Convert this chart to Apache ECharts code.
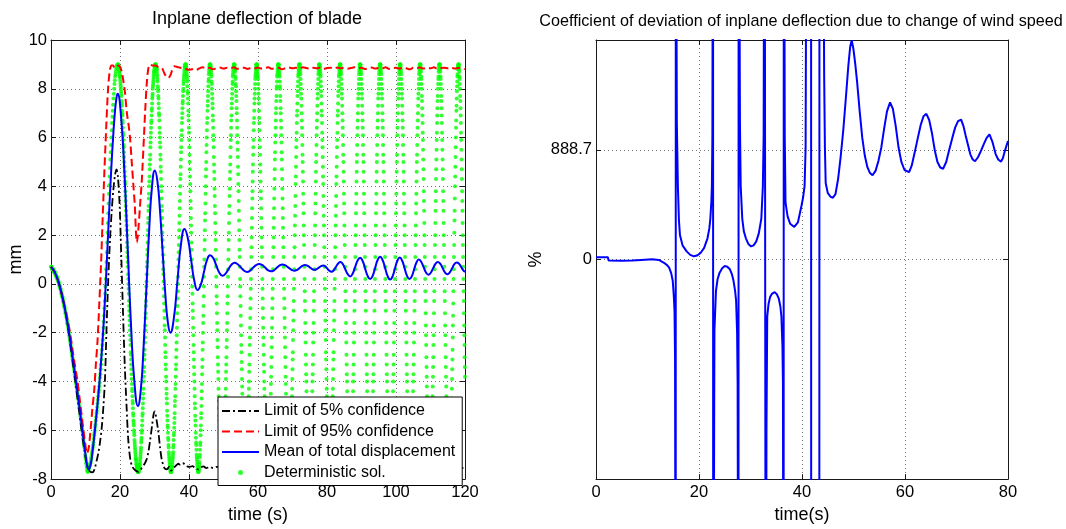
<!DOCTYPE html>
<html>
<head>
<meta charset="utf-8">
<title>Inplane deflection of blade</title>
<script src="https://cdn.jsdelivr.net/npm/echarts@6/dist/echarts.min.js"></script>
<style>
html,body{margin:0;padding:0;background:#fff;}
#main{width:1066px;height:529px;}
</style>
</head>
<body>
<div id="main"></div>
<script>
// deterministic solution: slow start sampled every 0.1 s from t=0,
// then every 0.05 s from t=19.3 (one block per half swing)
var detEarlyStep = 0.1;
var detEarly = [
  // 0.0 - 10.5
  0.7,0.7,0.7,0.6,0.6,0.6,0.6,0.6,0.5,0.5,0.5,0.5,0.4,0.4,0.4,0.3,0.3,0.3,0.2,0.2,
  0.2,0.1,0.1,0.0,0.0,-0.1,-0.1,-0.2,-0.2,-0.3,-0.4,-0.4,-0.5,-0.5,-0.6,-0.7,-0.7,-0.8,-0.9,-0.9,
  -1.0,-1.1,-1.2,-1.2,-1.3,-1.4,-1.5,-1.6,-1.6,-1.7,-1.8,-1.9,-2.0,-2.1,-2.2,-2.3,-2.4,-2.5,-2.6,-2.7,
  -2.8,-2.9,-3.0,-3.1,-3.2,-3.3,-3.4,-3.5,-3.6,-3.7,-3.8,-3.9,-4.0,-4.1,-4.2,-4.3,-4.4,-4.5,-4.6,-4.7,
  -4.8,-4.9,-5.0,-5.1,-5.2,-5.4,-5.5,-5.6,-5.7,-5.8,-5.9,-6.0,-6.1,-6.3,-6.4,-6.5,-6.6,-6.7,-6.8,-7.0,
  -7.1,-7.2,-7.35,-7.45,-7.55,-7.65,
  // 10.6 - 19.2
  -7.7,-7.7,-7.65,-7.6,-7.55,-7.5,-7.45,-7.4,-7.35,-7.3,-7.2,-7.1,-7.0,-6.9,-6.8,-6.7,-6.6,-6.5,-6.35,-6.2,
  -6.1,-6.0,-5.85,-5.75,-5.6,-5.45,-5.3,-5.2,-5.05,-4.9,-4.75,-4.6,-4.45,-4.35,-4.2,-4.05,-3.85,-3.7,-3.5,-3.3,
  -3.1,-2.9,-2.7,-2.5,-2.3,-2.05,-1.8,-1.55,-1.3,-1.0,-0.7,-0.4,-0.1,0.2,0.6,0.9,1.3,1.7,2.1,2.5,
  2.9,3.3,3.7,4.05,4.4,4.75,5.1,5.4,5.7,6.0,6.3,6.6,6.85,7.1,7.35,7.6,7.8,8.0,8.2,8.35,
  8.5,8.6,8.7,8.8,8.87,8.93,8.97
];
var detLateStart = 19.3;
var detLateStep = 0.05;
var detLate = [
  // 19.3 - 25.25
  9.0,9.0,9.0,9.0,8.9,8.9,8.9,8.9,8.8,8.8,8.7,8.7,8.6,8.5,8.5,8.4,8.3,8.2,8.1,8.0,
  7.9,7.8,7.7,7.5,7.4,7.3,7.1,7.0,6.9,6.7,6.6,6.4,6.2,6.1,5.9,5.7,5.6,5.4,5.2,5.0,
  4.8,4.6,4.4,4.2,4.1,3.8,3.6,3.4,3.2,3.0,2.8,2.6,2.4,2.2,2.0,1.7,1.5,1.3,1.1,0.9,
  0.7,0.4,0.2,0.0,-0.2,-0.4,-0.7,-0.9,-1.1,-1.3,-1.5,-1.7,-1.9,-2.1,-2.3,-2.5,-2.8,-2.9,-3.1,-3.3,
  -3.5,-3.7,-3.9,-4.1,-4.3,-4.4,-4.6,-4.8,-4.9,-5.1,-5.3,-5.4,-5.6,-5.7,-5.8,-6.0,-6.1,-6.2,-6.4,-6.5,
  -6.6,-6.7,-6.8,-6.9,-7.0,-7.1,-7.2,-7.2,-7.3,-7.4,-7.4,-7.5,-7.5,-7.6,-7.6,-7.6,-7.7,-7.7,-7.7,-7.7,
  // 25.3 - 30.25
  -7.7,-7.7,-7.7,-7.7,-7.6,-7.6,-7.5,-7.5,-7.4,-7.4,-7.3,-7.2,-7.1,-7.0,-6.9,-6.8,-6.7,-6.5,-6.4,-6.3,
  -6.1,-6.0,-5.8,-5.6,-5.4,-5.3,-5.1,-4.9,-4.7,-4.5,-4.3,-4.0,-3.8,-3.6,-3.4,-3.1,-2.9,-2.7,-2.4,-2.2,
  -1.9,-1.7,-1.4,-1.2,-0.9,-0.7,-0.4,-0.1,0.1,0.4,0.7,0.9,1.2,1.4,1.7,2.0,2.2,2.5,2.7,3.0,
  3.2,3.5,3.7,4.0,4.2,4.4,4.7,4.9,5.1,5.3,5.6,5.8,6.0,6.2,6.4,6.6,6.7,6.9,7.1,7.2,
  7.4,7.6,7.7,7.8,8.0,8.1,8.2,8.3,8.4,8.5,8.6,8.7,8.7,8.8,8.9,8.9,8.9,9.0,9.0,9.0,
  // 30.3 - 34.75
  9.0,9.0,9.0,8.9,8.9,8.9,8.8,8.8,8.7,8.6,8.5,8.4,8.3,8.1,8.0,7.9,7.7,7.6,7.4,7.2,
  7.0,6.9,6.7,6.4,6.2,6.0,5.8,5.6,5.3,5.1,4.8,4.6,4.3,4.0,3.8,3.5,3.2,3.0,2.7,2.4,
  2.1,1.8,1.5,1.2,0.9,0.6,0.4,0.1,-0.2,-0.5,-0.8,-1.1,-1.4,-1.7,-1.9,-2.2,-2.5,-2.8,-3.0,-3.3,
  -3.5,-3.8,-4.0,-4.3,-4.5,-4.7,-4.9,-5.2,-5.4,-5.6,-5.8,-5.9,-6.1,-6.3,-6.4,-6.6,-6.7,-6.9,-7.0,-7.1,
  -7.2,-7.3,-7.4,-7.5,-7.5,-7.6,-7.6,-7.7,-7.7,-7.7,
  // 34.8 - 38.95
  -7.7,-7.7,-7.7,-7.6,-7.6,-7.5,-7.5,-7.4,-7.3,-7.2,-7.1,-7.0,-6.9,-6.7,-6.6,-6.4,-6.2,-6.1,-5.9,-5.7,
  -5.5,-5.3,-5.0,-4.8,-4.6,-4.3,-4.1,-3.8,-3.5,-3.3,-3.0,-2.7,-2.4,-2.1,-1.8,-1.5,-1.2,-0.9,-0.6,-0.3,
  0.0,0.3,0.7,1.0,1.3,1.6,1.9,2.2,2.5,2.8,3.1,3.4,3.7,4.0,4.3,4.5,4.8,5.1,5.4,5.6,
  5.9,6.1,6.3,6.6,6.8,7.0,7.2,7.4,7.5,7.7,7.9,8.0,8.2,8.3,8.4,8.5,8.6,8.7,8.8,8.9,
  8.9,8.9,9.0,9.0,
  // 39.0 - 42.65
  9.0,9.0,9.0,8.9,8.9,8.8,8.7,8.6,8.5,8.4,8.3,8.1,7.9,7.8,7.6,7.4,7.1,6.9,6.7,6.4,
  6.2,5.9,5.6,5.3,5.0,4.7,4.4,4.1,3.8,3.4,3.1,2.7,2.4,2.1,1.7,1.4,1.0,0.7,0.3,-0.1,
  -0.4,-0.8,-1.1,-1.4,-1.8,-2.1,-2.5,-2.8,-3.1,-3.4,-3.7,-4.0,-4.3,-4.6,-4.9,-5.1,-5.4,-5.6,-5.8,-6.1,
  -6.3,-6.5,-6.6,-6.8,-7.0,-7.1,-7.2,-7.3,-7.4,-7.5,-7.6,-7.6,-7.7,-7.7,
  // 42.7 - 46.05
  -7.7,-7.7,-7.7,-7.6,-7.6,-7.5,-7.4,-7.3,-7.1,-7.0,-6.8,-6.6,-6.5,-6.2,-6.0,-5.8,-5.5,-5.3,-5.0,-4.7,
  -4.4,-4.1,-3.7,-3.4,-3.1,-2.7,-2.4,-2.0,-1.6,-1.3,-0.9,-0.5,-0.1,0.3,0.7,1.0,1.4,1.8,2.2,2.6,
  2.9,3.3,3.7,4.0,4.4,4.7,5.0,5.4,5.7,6.0,6.3,6.6,6.8,7.1,7.3,7.5,7.7,7.9,8.1,8.3,
  8.4,8.6,8.7,8.8,8.9,8.9,9.0,9.0,
  // 46.1 - 49.55
  9.0,9.0,9.0,8.9,8.9,8.8,8.7,8.6,8.5,8.3,8.2,8.0,7.8,7.6,7.4,7.2,6.9,6.7,6.4,6.1,
  5.9,5.6,5.2,4.9,4.6,4.3,3.9,3.6,3.2,2.9,2.5,2.1,1.8,1.4,1.0,0.7,0.3,-0.1,-0.5,-0.8,
  -1.2,-1.6,-1.9,-2.3,-2.6,-3.0,-3.3,-3.6,-3.9,-4.3,-4.6,-4.8,-5.1,-5.4,-5.6,-5.9,-6.1,-6.3,-6.5,-6.7,
  -6.9,-7.0,-7.2,-7.3,-7.4,-7.5,-7.6,-7.6,-7.7,-7.7,
  // 49.6 - 53.05
  -7.7,-7.7,-7.7,-7.6,-7.6,-7.5,-7.4,-7.3,-7.2,-7.0,-6.9,-6.7,-6.5,-6.3,-6.1,-5.9,-5.6,-5.4,-5.1,-4.8,
  -4.6,-4.3,-3.9,-3.6,-3.3,-3.0,-2.6,-2.3,-1.9,-1.6,-1.2,-0.8,-0.5,-0.1,0.3,0.6,1.0,1.4,1.8,2.1,
  2.5,2.9,3.2,3.6,3.9,4.3,4.6,4.9,5.2,5.6,5.9,6.1,6.4,6.7,6.9,7.2,7.4,7.6,7.8,8.0,
  8.2,8.3,8.5,8.6,8.7,8.8,8.9,8.9,9.0,9.0,
  // 53.1 - 56.35
  9.0,9.0,9.0,8.9,8.8,8.8,8.7,8.5,8.4,8.2,8.1,7.9,7.7,7.5,7.2,7.0,6.7,6.4,6.1,5.8,
  5.5,5.2,4.8,4.5,4.1,3.8,3.4,3.0,2.6,2.2,1.8,1.4,1.1,0.7,0.2,-0.1,-0.5,-0.9,-1.3,-1.7,
  -2.1,-2.5,-2.8,-3.2,-3.5,-3.9,-4.2,-4.5,-4.8,-5.1,-5.4,-5.7,-5.9,-6.2,-6.4,-6.6,-6.8,-7.0,-7.1,-7.2,
  -7.4,-7.5,-7.5,-7.6,-7.7,-7.7,
  // 56.4 - 59.55
  -7.7,-7.7,-7.7,-7.6,-7.5,-7.4,-7.3,-7.2,-7.1,-6.9,-6.7,-6.5,-6.3,-6.1,-5.8,-5.5,-5.3,-5.0,-4.6,-4.3,
  -4.0,-3.6,-3.3,-2.9,-2.5,-2.2,-1.8,-1.4,-1.0,-0.6,-0.2,0.2,0.6,1.1,1.5,1.9,2.3,2.7,3.1,3.5,
  3.8,4.2,4.6,4.9,5.3,5.6,5.9,6.3,6.6,6.8,7.1,7.4,7.6,7.8,8.0,8.2,8.4,8.5,8.6,8.7,
  8.8,8.9,9.0,9.0,
  // 59.6 - 62.75
  9.0,9.0,9.0,8.9,8.8,8.7,8.6,8.5,8.4,8.2,8.0,7.8,7.6,7.4,7.1,6.8,6.6,6.3,5.9,5.6,
  5.3,4.9,4.6,4.2,3.8,3.5,3.1,2.7,2.3,1.9,1.5,1.1,0.7,0.2,-0.2,-0.6,-1.0,-1.4,-1.8,-2.2,
  -2.5,-2.9,-3.3,-3.6,-4.0,-4.3,-4.6,-5.0,-5.3,-5.5,-5.8,-6.1,-6.3,-6.5,-6.7,-6.9,-7.1,-7.2,-7.3,-7.5,
  -7.5,-7.6,-7.7,-7.7,
  // 62.8 - 65.85
  -7.7,-7.7,-7.7,-7.6,-7.5,-7.4,-7.3,-7.2,-7.0,-6.8,-6.7,-6.4,-6.2,-5.9,-5.7,-5.4,-5.1,-4.8,-4.5,-4.1,
  -3.8,-3.4,-3.0,-2.6,-2.2,-1.8,-1.4,-1.0,-0.6,-0.2,0.2,0.6,1.1,1.5,1.9,2.3,2.7,3.1,3.5,3.9,
  4.3,4.7,5.1,5.4,5.8,6.1,6.4,6.7,7.0,7.2,7.5,7.7,8.0,8.1,8.3,8.5,8.6,8.7,8.8,8.9,
  9.0,9.0,
  // 65.9 - 68.95
  9.0,9.0,9.0,8.9,8.8,8.7,8.6,8.5,8.3,8.1,8.0,7.7,7.5,7.2,7.0,6.7,6.4,6.1,5.8,5.4,
  5.1,4.7,4.3,3.9,3.5,3.1,2.7,2.3,1.9,1.5,1.1,0.7,0.2,-0.2,-0.6,-1.0,-1.4,-1.8,-2.2,-2.6,
  -3.0,-3.4,-3.8,-4.1,-4.5,-4.8,-5.1,-5.4,-5.7,-5.9,-6.2,-6.4,-6.6,-6.8,-7.0,-7.2,-7.3,-7.4,-7.5,-7.6,
  -7.7,-7.7,
  // 69.0 - 71.95
  -7.7,-7.7,-7.6,-7.6,-7.5,-7.4,-7.3,-7.2,-7.0,-6.8,-6.6,-6.4,-6.1,-5.8,-5.6,-5.3,-4.9,-4.6,-4.3,-3.9,
  -3.5,-3.1,-2.8,-2.3,-1.9,-1.5,-1.1,-0.7,-0.2,0.2,0.6,1.1,1.5,2.0,2.4,2.8,3.2,3.6,4.1,4.4,
  4.8,5.2,5.6,5.9,6.2,6.6,6.9,7.1,7.4,7.7,7.9,8.1,8.3,8.5,8.6,8.7,8.8,8.9,9.0,9.0,
  // 72.0 - 74.85
  9.0,9.0,9.0,8.9,8.8,8.7,8.6,8.4,8.2,8.0,7.8,7.6,7.3,7.0,6.7,6.4,6.1,5.7,5.3,5.0,
  4.6,4.2,3.7,3.3,2.9,2.4,2.0,1.6,1.1,0.7,0.2,-0.3,-0.7,-1.1,-1.6,-2.0,-2.4,-2.9,-3.3,-3.7,
  -4.0,-4.4,-4.8,-5.1,-5.4,-5.7,-6.0,-6.3,-6.5,-6.7,-6.9,-7.1,-7.3,-7.4,-7.5,-7.6,-7.7,-7.7,
  // 74.9 - 77.75
  -7.7,-7.7,-7.7,-7.6,-7.5,-7.4,-7.3,-7.1,-6.9,-6.7,-6.5,-6.3,-6.0,-5.7,-5.4,-5.1,-4.8,-4.4,-4.0,-3.7,
  -3.3,-2.9,-2.4,-2.0,-1.6,-1.1,-0.7,-0.3,0.2,0.6,1.1,1.6,2.0,2.4,2.9,3.3,3.7,4.2,4.6,5.0,
  5.3,5.7,6.1,6.4,6.7,7.0,7.3,7.6,7.8,8.0,8.2,8.4,8.6,8.7,8.8,8.9,9.0,9.0,
  // 77.8 - 80.75
  9.0,9.0,8.9,8.9,8.8,8.7,8.6,8.5,8.3,8.1,7.9,7.7,7.4,7.1,6.9,6.6,6.2,5.9,5.6,5.2,
  4.8,4.4,4.1,3.6,3.2,2.8,2.4,2.0,1.5,1.1,0.7,0.2,-0.2,-0.7,-1.1,-1.5,-1.9,-2.3,-2.8,-3.1,
  -3.5,-3.9,-4.3,-4.6,-4.9,-5.3,-5.6,-5.8,-6.1,-6.4,-6.6,-6.8,-7.0,-7.2,-7.3,-7.4,-7.5,-7.6,-7.7,-7.7,
  // 80.8 - 83.75
  -7.7,-7.7,-7.6,-7.6,-7.5,-7.4,-7.3,-7.2,-7.0,-6.8,-6.6,-6.4,-6.1,-5.8,-5.6,-5.3,-4.9,-4.6,-4.3,-3.9,
  -3.5,-3.1,-2.8,-2.3,-1.9,-1.5,-1.1,-0.7,-0.2,0.2,0.6,1.1,1.5,2.0,2.4,2.8,3.2,3.6,4.1,4.4,
  4.8,5.2,5.6,5.9,6.2,6.6,6.9,7.1,7.4,7.7,7.9,8.1,8.3,8.5,8.6,8.7,8.8,8.9,9.0,9.0,
  // 83.8 - 86.65
  9.0,9.0,9.0,8.9,8.8,8.7,8.6,8.4,8.2,8.0,7.8,7.6,7.3,7.0,6.7,6.4,6.1,5.7,5.3,5.0,
  4.6,4.2,3.7,3.3,2.9,2.4,2.0,1.6,1.1,0.7,0.2,-0.3,-0.7,-1.1,-1.6,-2.0,-2.4,-2.9,-3.3,-3.7,
  -4.0,-4.4,-4.8,-5.1,-5.4,-5.7,-6.0,-6.3,-6.5,-6.7,-6.9,-7.1,-7.3,-7.4,-7.5,-7.6,-7.7,-7.7,
  // 86.7 - 89.55
  -7.7,-7.7,-7.7,-7.6,-7.5,-7.4,-7.3,-7.1,-6.9,-6.7,-6.5,-6.3,-6.0,-5.7,-5.4,-5.1,-4.8,-4.4,-4.0,-3.7,
  -3.3,-2.9,-2.4,-2.0,-1.6,-1.1,-0.7,-0.3,0.2,0.6,1.1,1.6,2.0,2.4,2.9,3.3,3.7,4.2,4.6,5.0,
  5.3,5.7,6.1,6.4,6.7,7.0,7.3,7.6,7.8,8.0,8.2,8.4,8.6,8.7,8.8,8.9,9.0,9.0,
  // 89.6 - 92.45
  9.0,9.0,9.0,8.9,8.8,8.7,8.6,8.4,8.2,8.0,7.8,7.6,7.3,7.0,6.7,6.4,6.1,5.7,5.3,5.0,
  4.6,4.2,3.7,3.3,2.9,2.4,2.0,1.6,1.1,0.7,0.2,-0.3,-0.7,-1.1,-1.6,-2.0,-2.4,-2.9,-3.3,-3.7,
  -4.0,-4.4,-4.8,-5.1,-5.4,-5.7,-6.0,-6.3,-6.5,-6.7,-6.9,-7.1,-7.3,-7.4,-7.5,-7.6,-7.7,-7.7,
  // 92.5 - 95.35
  -7.7,-7.7,-7.7,-7.6,-7.5,-7.4,-7.3,-7.1,-6.9,-6.7,-6.5,-6.3,-6.0,-5.7,-5.4,-5.1,-4.8,-4.4,-4.0,-3.7,
  -3.3,-2.9,-2.4,-2.0,-1.6,-1.1,-0.7,-0.3,0.2,0.6,1.1,1.6,2.0,2.4,2.9,3.3,3.7,4.2,4.6,5.0,
  5.3,5.7,6.1,6.4,6.7,7.0,7.3,7.6,7.8,8.0,8.2,8.4,8.6,8.7,8.8,8.9,9.0,9.0,
  // 95.4 - 98.25
  9.0,9.0,9.0,8.9,8.8,8.7,8.6,8.4,8.2,8.0,7.8,7.6,7.3,7.0,6.7,6.4,6.1,5.7,5.3,5.0,
  4.6,4.2,3.7,3.3,2.9,2.4,2.0,1.6,1.1,0.7,0.2,-0.3,-0.7,-1.1,-1.6,-2.0,-2.4,-2.9,-3.3,-3.7,
  -4.0,-4.4,-4.8,-5.1,-5.4,-5.7,-6.0,-6.3,-6.5,-6.7,-6.9,-7.1,-7.3,-7.4,-7.5,-7.6,-7.7,-7.7,
  // 98.3 - 101.15
  -7.7,-7.7,-7.7,-7.6,-7.5,-7.4,-7.3,-7.1,-6.9,-6.7,-6.5,-6.3,-6.0,-5.7,-5.4,-5.1,-4.8,-4.4,-4.0,-3.7,
  -3.3,-2.9,-2.4,-2.0,-1.6,-1.1,-0.7,-0.3,0.2,0.6,1.1,1.6,2.0,2.4,2.9,3.3,3.7,4.2,4.6,5.0,
  5.3,5.7,6.1,6.4,6.7,7.0,7.3,7.6,7.8,8.0,8.2,8.4,8.6,8.7,8.8,8.9,9.0,9.0,
  // 101.2 - 104.05
  9.0,9.0,9.0,8.9,8.8,8.7,8.6,8.4,8.2,8.0,7.8,7.6,7.3,7.0,6.7,6.4,6.1,5.7,5.3,5.0,
  4.6,4.2,3.7,3.3,2.9,2.4,2.0,1.6,1.1,0.7,0.2,-0.3,-0.7,-1.1,-1.6,-2.0,-2.4,-2.9,-3.3,-3.7,
  -4.0,-4.4,-4.8,-5.1,-5.4,-5.7,-6.0,-6.3,-6.5,-6.7,-6.9,-7.1,-7.3,-7.4,-7.5,-7.6,-7.7,-7.7,
  // 104.1 - 106.95
  -7.7,-7.7,-7.7,-7.6,-7.5,-7.4,-7.3,-7.1,-6.9,-6.7,-6.5,-6.3,-6.0,-5.7,-5.4,-5.1,-4.8,-4.4,-4.0,-3.7,
  -3.3,-2.9,-2.4,-2.0,-1.6,-1.1,-0.7,-0.3,0.2,0.6,1.1,1.6,2.0,2.4,2.9,3.3,3.7,4.2,4.6,5.0,
  5.3,5.7,6.1,6.4,6.7,7.0,7.3,7.6,7.8,8.0,8.2,8.4,8.6,8.7,8.8,8.9,9.0,9.0,
  // 107.0 - 109.75
  9.0,9.0,9.0,8.9,8.8,8.7,8.5,8.4,8.2,8.0,7.7,7.5,7.2,6.9,6.6,6.2,5.9,5.5,5.1,4.7,
  4.3,3.8,3.4,3.0,2.5,2.0,1.6,1.1,0.7,0.2,-0.3,-0.7,-1.2,-1.7,-2.1,-2.5,-3.0,-3.4,-3.8,-4.2,
  -4.6,-4.9,-5.3,-5.6,-5.9,-6.2,-6.4,-6.7,-6.9,-7.1,-7.2,-7.4,-7.5,-7.6,-7.7,-7.7,
  // 109.8 - 112.55
  -7.7,-7.7,-7.7,-7.6,-7.5,-7.4,-7.2,-7.1,-6.9,-6.7,-6.4,-6.2,-5.9,-5.6,-5.3,-4.9,-4.6,-4.2,-3.8,-3.4,
  -3.0,-2.5,-2.1,-1.7,-1.2,-0.7,-0.3,0.2,0.6,1.1,1.6,2.0,2.5,3.0,3.4,3.8,4.3,4.7,5.1,5.5,
  5.9,6.2,6.6,6.9,7.2,7.5,7.7,8.0,8.2,8.4,8.5,8.7,8.8,8.9,9.0,9.0,
  // 112.6 - 115.35
  9.0,9.0,9.0,8.9,8.8,8.7,8.5,8.4,8.2,8.0,7.7,7.5,7.2,6.9,6.6,6.2,5.9,5.5,5.1,4.7,
  4.3,3.8,3.4,3.0,2.5,2.0,1.6,1.1,0.7,0.2,-0.3,-0.7,-1.2,-1.7,-2.1,-2.5,-3.0,-3.4,-3.8,-4.2,
  -4.6,-4.9,-5.3,-5.6,-5.9,-6.2,-6.4,-6.7,-6.9,-7.1,-7.2,-7.4,-7.5,-7.6,-7.7,-7.7,
  // 115.4 - 118.05
  -7.7,-7.7,-7.6,-7.6,-7.5,-7.3,-7.2,-7.0,-6.8,-6.6,-6.3,-6.0,-5.7,-5.4,-5.1,-4.7,-4.3,-3.9,-3.5,-3.1,
  -2.7,-2.2,-1.7,-1.3,-0.8,-0.3,0.2,0.6,1.1,1.6,2.1,2.6,3.0,3.5,4.0,4.4,4.8,5.2,5.6,6.0,
  6.4,6.7,7.1,7.3,7.6,7.9,8.1,8.3,8.5,8.6,8.8,8.9,8.9,9.0,
  // 118.1 - 120.0
  9.0,9.0,9.0,8.9,8.8,8.7,8.5,8.4,8.2,8.0,7.7,7.5,7.2,6.9,6.6,6.2,5.9,5.5,5.1,4.7,
  4.3,3.8,3.4,3.0,2.5,2.0,1.6,1.1,0.7,0.2,-0.3,-0.7,-1.2,-1.7,-2.1,-2.5,-3.0,-3.4,-3.8
];

// [time (s), deflection (mm)]
var conf5 = [[0,0.7],[1,0.5],[2,0.15],[3,-0.35],[4,-1.0],[5,-1.85],[6,-2.9],[7,-3.95],[8,-5.05],[9,-6.15],[10,-7.1],
  [10.6,-7.5],[11.2,-7.68],[11.8,-7.72],[12.3,-7.7],[12.8,-7.5],[13.3,-7.2],[13.7,-6.95],[14.2,-6.5],[14.7,-5.9],
  [15.2,-5.0],[15.65,-3.9],[16.1,-1.8],[16.6,0.2],[17.1,1.8],[17.6,3.0],[18.1,3.9],[18.6,4.5],[19.0,4.7],[19.4,4.4],
  [19.9,3.2],[20.4,1.0],[20.9,-1.3],[21.4,-3.4],[21.9,-5.0],[22.4,-6.4],[23.0,-7.2],[23.6,-7.5],[24.5,-7.65],[25.3,-7.7],
  [26.0,-7.6],[26.8,-7.45],[27.7,-7.2],[28.2,-6.9],[28.7,-6.45],[29.3,-5.8],[29.8,-5.3],[30.1,-5.22],[30.5,-5.5],
  [31.1,-6.05],[31.6,-6.7],[32.1,-7.2],[32.6,-7.45],[33.0,-7.57],[33.6,-7.6],[34.2,-7.5],[34.8,-7.65],[35.5,-7.55],
  [36.2,-7.45],[36.9,-7.37],[37.5,-7.42],[38.2,-7.35],[38.9,-7.4],[39.5,-7.48],[40.2,-7.5],[41,-7.47],[41.8,-7.55],
  [42.6,-7.6],[43.4,-7.52],[44.2,-7.48],[45,-7.55],[46,-7.5],[47,-7.55],[48,-7.5],[50,-7.52],[55,-7.55],[60,-7.5],
  [65,-7.55],[70,-7.52],[75,-7.56],[80,-7.5],[85,-7.54],[90,-7.52],[95,-7.55],[100,-7.5],[105,-7.54],[110,-7.52],
  [115,-7.55],[118,-7.52],[120,-7.56]];

var conf95 = [[0,0.7],[1,0.5],[2,0.15],[3,-0.35],[4,-0.95],[5,-1.6],[5.5,-2.0],[6,-2.45],[6.5,-2.95],[7,-3.4],
  [7.7,-4.0],[8.3,-4.7],[8.9,-5.4],[9.4,-6.0],[9.9,-6.5],[10.4,-6.95],[10.9,-6.75],[11.4,-6.1],[12.0,-5.1],[12.5,-4.4],
  [13.0,-3.3],[13.5,-2.3],[14.0,-0.8],[14.5,0.8],[15.0,2.8],[15.5,4.7],[16.0,6.4],[16.5,7.9],[17.0,8.7],[17.5,8.95],
  [18.0,8.95],[18.5,8.85],[19.0,8.9],[19.5,8.95],[20.0,8.9],[20.5,8.7],[21.0,8.3],[21.4,7.9],[22.0,7.0],[22.5,6.5],
  [22.9,6.0],[23.4,5.0],[23.9,4.0],[24.3,3.2],[24.6,2.2],[24.9,1.7],[25.3,2.2],[25.8,3.2],[26.3,4.2],[26.8,5.6],
  [27.3,7.1],[27.8,8.3],[28.3,8.9],[28.8,9.0],[29.5,8.95],[30.3,8.95],[31.0,8.9],[31.6,8.88],[32.2,8.85],[32.8,8.65],
  [33.4,8.5],[34.0,8.45],[34.6,8.55],[35.2,8.8],[35.8,8.92],[36.4,8.9],
  [37,8.88],[38,8.85],[39,8.82],[40,8.78],[41,8.8],[42,8.76],[43,8.84],[44,8.88],[45,8.83],[46,8.86],
  [47,8.8],[48,8.85],[49,8.87],[50,8.83],[51,8.86],[52,8.84],[53,8.88],[54,8.82],[55,8.85],[56,8.86],
  [57,8.81],[58,8.86],[59,8.84],[60,8.87],[61,8.83],[62,8.85],[63,8.88],[64,8.82],[65,8.84],[66,8.86],
  [67,8.8],[68,8.85],[69,8.87],[70,8.84],[71,8.86],[72,8.83],[73,8.88],[74,8.85],[75,8.82],[76,8.86],
  [77,8.84],[78,8.87],[79,8.81],[80,8.85],[81,8.86],[82,8.83],[83,8.87],[84,8.84],[85,8.86],[86,8.82],
  [87,8.85],[88,8.88],[89,8.84],[90,8.86],[91,8.81],[92,8.85],[93,8.87],[94,8.83],[95,8.86],[96,8.84],
  [97,8.88],[98,8.82],[99,8.85],[100,8.86],[101,8.83],[102,8.87],[103,8.84],[104,8.8],[105,8.86],[106,8.85],
  [107,8.87],[108,8.83],[109,8.86],[110,8.84],[111,8.88],[112,8.82],[113,8.85],[114,8.86],[115,8.84],[116,8.87],
  [117,8.83],[118,8.85],[119,8.86],[120,8.8]];

var meanDisp = [[0,0.7],[1,0.5],[2,0.15],[3,-0.35],[4,-1.0],[5,-1.8],[6,-2.75],[7,-3.75],[8,-4.8],[9,-5.9],[10,-7.0],
  [10.5,-7.45],[10.9,-7.6],[11.5,-7.4],[12,-6.9],[12.5,-6.3],[13,-5.6],[13.5,-4.9],[14,-4.1],[14.5,-3.2],[15,-2.2],
  [15.5,-1.0],[16,0.4],[16.5,1.9],[17,3.4],[17.5,4.8],[18,6.0],[18.5,7.0],[19,7.65],[19.3,7.8],
  [20.28,6.9],[21.27,4.6],[22.25,1.4],[23.23,-1.8],[24.22,-4.1],[25.2,-5.0],
  [26.02,-4.35],[26.83,-2.59],[27.65,-0.18],[28.47,2.24],[29.28,4.0],[30.1,4.65],
  [30.85,4.2],[31.6,2.99],[32.35,1.33],[33.1,-0.34],[33.85,-1.55],[34.6,-2.0],
  [35.63,-1.38],[36.65,0.13],[37.68,1.63],[38.7,2.25],[39.65,1.88],[40.6,1.0],[41.55,0.12],[42.5,-0.25],
  [43.4,-0.04],[44.3,0.47],[45.2,0.97],[46.1,1.18],[47.0,1.06],[47.9,0.76],[48.8,0.46],[49.7,0.34],
  [50.58,0.42],[51.45,0.61],[52.33,0.79],[53.2,0.87],[54.1,0.81],[55.0,0.68],[55.9,0.55],[56.8,0.49],
  [57.68,0.54],[58.55,0.66],[59.43,0.77],[60.3,0.82],[61.18,0.78],[62.05,0.67],[62.93,0.56],[63.8,0.52],
  [64.63,0.56],[65.45,0.66],[66.28,0.76],[67.1,0.8],[67.98,0.76],[68.85,0.67],[69.73,0.58],[70.6,0.54],
  [71.35,0.58],[72.1,0.66],[72.85,0.74],[73.6,0.78],[74.3,0.75],[75.0,0.68],[75.7,0.61],[76.4,0.58],
  [77.03,0.61],[77.65,0.67],[78.28,0.73],[78.9,0.76],[79.5,0.72],[80.1,0.63],[80.7,0.54],[81.3,0.5],
  [81.95,0.56],[82.6,0.7],[83.25,0.84],[83.9,0.9],[84.6,0.81],[85.3,0.6],[86.0,0.4],[86.7,0.31],
  [87.43,0.42],[88.15,0.69],[88.88,0.96],[89.6,1.07],[90.33,0.94],[91.05,0.63],[91.78,0.33],[92.5,0.2],
  [93.23,0.33],[93.95,0.66],[94.68,0.98],[95.4,1.11],[96.13,0.97],[96.85,0.65],[97.58,0.32],[98.3,0.18],
  [99.0,0.31],[99.7,0.63],[100.4,0.95],[101.1,1.08],[101.8,0.95],[102.5,0.64],[103.2,0.33],[103.9,0.2],
  [104.58,0.32],[105.25,0.6],[105.93,0.88],[106.6,1.0],[107.3,0.91],[108.0,0.69],[108.7,0.47],[109.4,0.38],
  [110.08,0.46],[110.75,0.64],[111.43,0.82],[112.1,0.9],[112.8,0.83],[113.5,0.65],[114.2,0.47],[114.9,0.4],
  [115.58,0.47],[116.25,0.64],[116.93,0.81],[117.6,0.88],[118.2,0.84],[118.8,0.72],[119.4,0.58],[120,0.49]];

// [time (s), coefficient of deviation (%)]; +-6000 = off the chart at the singular points
var cvPct = [[0,18],[2.3,18],[2.45,-8],[5,-10],[7,-8],[8.8,-3],[10.9,3],[12.2,-3],[13.2,-26],[13.8,-45],[14.2,-66],
  [14.6,-110],[14.9,-172],[15.1,-290],[15.25,-420],[15.35,-800],[15.42,-2500],[15.47,-6000],[15.5,6000],[15.55,3000],
  [15.7,1100],[15.9,594],[16.1,320],[16.3,198],[16.8,115],[17.6,66],[18.3,38],[19.0,26],[19.6,32],[20.3,53],[21.0,95],
  [21.65,172],[22.0,250],[22.2,330],[22.4,470],[22.5,594],[22.6,1000],[22.68,3000],[22.72,6000],[22.76,-6000],
  [22.85,-3000],[22.95,-1200],[23.0,-568],[23.3,-251],[23.6,-160],[24.0,-106],[24.5,-70],[25.0,-53],[25.5,-58],
  [26.0,-79],[26.4,-120],[26.7,-172],[27.0,-250],[27.2,-330],[27.4,-594],[27.5,-1000],[27.6,-3000],[27.66,-6000],
  [27.7,6000],[27.8,3000],[27.95,1100],[28.1,594],[28.4,330],[28.7,230],[29.1,172],[29.6,125],[30.1,106],[30.6,115],
  [31.1,145],[31.6,210],[32.1,330],[32.4,594],[32.55,1000],[32.65,3000],[32.7,6000],[32.95,6000],[33.0,-6000],
  [33.05,-3000],[33.1,-1387],[33.25,-462],[33.5,-360],[33.8,-304],[34.2,-275],[34.7,-264],[35.1,-280],[35.5,-317],
  [35.8,-380],[36.0,-462],[36.2,-700],[36.3,-990],[36.37,-3000],[36.42,-6000],[36.47,6000],[36.55,3000],[36.65,1000],
  [36.8,462],[37.2,350],[37.7,290],[38.5,264],[39.2,300],[39.9,436],[40.2,500],[40.5,594],[40.7,900],[40.85,3000],
  [40.9,6000],[41.75,6000],[41.8,-6000],[43.35,-6000],[43.4,6000],[44.1,6000],[44.15,3000],[44.3,1500],[44.45,900],
  [44.6,620],[45.0,540],[45.5,510],[46.0,500],[46.5,530],[47.0,650],[47.5,830],[48.0,1040],[48.5,1300],[49.0,1570],
  [49.35,1720],[49.65,1775],[50.0,1700],[50.35,1580],[50.7,1438],[51.2,1200],[51.7,987],[52.2,840],[52.7,748],
  [53.2,700],[53.7,682],[54.3,720],[54.85,800],[55.4,907],[55.95,1060],[56.5,1200],[57.1,1273],[57.65,1220],
  [58.2,1080],[58.75,907],[59.3,790],[59.9,725],[60.8,708],[61.3,760],[61.9,870],[62.5,987],[63.05,1090],[63.6,1160],
  [64.15,1180],[64.7,1130],[65.25,1020],[65.8,881],[66.3,790],[66.85,745],[67.4,735],[68.0,790],[68.6,890],[69.2,987],
  [69.75,1070],[70.3,1120],[70.9,1133],[71.35,1080],[71.8,1000],[72.2,934],[72.7,850],[73.15,810],[73.6,796],
  [74.2,830],[74.75,880],[75.3,934],[75.85,985],[76.4,1013],[77.0,950],[77.6,854],[78.1,810],[78.65,793],[79.0,820],
  [79.4,880],[79.7,920],[80.0,960]];

var cvTicks = [0, 888.7];
var cvRange = 1777.4;

var font = 'Liberation Sans, Arial, Helvetica, sans-serif';
var frame = '#1a1a1a';
var dotted = {show: true, lineStyle: {color: '#707070', type: [1, 3], width: 1}};

var detPts = detEarly.map(function (v, i) {
    return [+(i * detEarlyStep).toFixed(2), v];
}).concat(detLate.map(function (v, i) {
    return [+(detLateStart + i * detLateStep).toFixed(2), v];
}));

function axisBase(grid, pos, min, max, interval) {
    return {
        type: 'value', gridIndex: grid, position: pos, min: min, max: max, interval: interval,
        axisLine: {show: true, onZero: false, lineStyle: {color: frame, width: 1}},
        axisTick: {show: true, inside: true, length: 5, lineStyle: {color: frame}},
        axisLabel: {show: false},
        splitLine: {show: false}
    };
}
function labelled(ax, name, gap, margin) {
    ax.name = name;
    ax.nameLocation = 'middle';
    ax.nameGap = gap;
    ax.nameTextStyle = {fontFamily: font, fontSize: 18, color: '#000'};
    ax.axisLabel = {show: true, fontFamily: font, fontSize: 16.5, color: '#000', margin: margin};
    ax.splitLine = dotted;
    return ax;
}

var xLeft = labelled(axisBase(0, 'bottom', 0, 120, 20), 'time (s)', 20, 5);
var yLeft = labelled(axisBase(0, 'left', -8, 10, 2), 'mm', 25, 4);
var xRight = labelled(axisBase(1, 'bottom', 0, 80, 20), 'time(s)', 20, 5);
var yRight = labelled(axisBase(1, 'left', -cvRange, cvRange, cvRange / 2), '%', 51, 4);
yRight.axisLabel.customValues = cvTicks;
yRight.axisTick.customValues = cvTicks;
var yRight2 = axisBase(1, 'right', -cvRange, cvRange, cvRange / 2);
yRight2.axisTick.customValues = cvTicks;

var chart = echarts.init(document.getElementById('main'));
chart.setOption({
    animation: false,
    backgroundColor: '#fff',
    title: [
        {text: 'Inplane deflection of blade', left: 257, top: 10, padding: 0, textAlign: 'center',
         textStyle: {fontFamily: font, fontSize: 18, fontWeight: 'normal', color: '#000'}},
        {text: 'Coefficient of deviation of inplane deflection due to change of wind speed', left: 801, top: 14,
         padding: 0, textAlign: 'center',
         textStyle: {fontFamily: font, fontSize: 16.2, fontWeight: 'normal', color: '#000'}}
    ],
    grid: [
        {left: 51, top: 40, width: 414, height: 449},
        {left: 596, top: 40, width: 412, height: 449}
    ],
    xAxis: [xLeft, axisBase(0, 'top', 0, 120, 20), xRight, axisBase(1, 'top', 0, 80, 20)],
    yAxis: [yLeft, axisBase(0, 'right', -8, 10, 2), yRight, yRight2],
    legend: {
        orient: 'vertical', left: 218, top: 397, itemWidth: 37, itemHeight: 5, itemGap: 0.5,
        padding: [4, 7, 3, 3], backgroundColor: '#fff', borderColor: '#000', borderWidth: 1,
        selectedMode: false,
        textStyle: {fontFamily: font, fontSize: 16, color: '#000', lineHeight: 20},
        data: [
            {name: 'Limit of 5% confidence', itemStyle: {opacity: 0}},
            {name: 'Limit of 95% confidence', itemStyle: {opacity: 0}},
            {name: 'Mean of total displacement', itemStyle: {opacity: 0}},
            {name: 'Deterministic sol.'}
        ]
    },
    series: [
        {name: 'Limit of 5% confidence', type: 'line', xAxisIndex: 0, yAxisIndex: 0, data: conf5,
         symbol: 'none', smooth: 0.3, lineStyle: {color: '#000', width: 1.8, type: [8, 3, 2, 3]},
         itemStyle: {color: '#000'}},
        {name: 'Limit of 95% confidence', type: 'line', xAxisIndex: 0, yAxisIndex: 0, data: conf95,
         symbol: 'none', smooth: 0.3, lineStyle: {color: '#ff0000', width: 2, type: [8, 4]},
         itemStyle: {color: '#ff0000'}},
        {name: 'Mean of total displacement', type: 'line', xAxisIndex: 0, yAxisIndex: 0, data: meanDisp,
         symbol: 'none', smooth: 0.5, lineStyle: {color: '#0000ff', width: 2},
         itemStyle: {color: '#0000ff'}},
        {name: 'Deterministic sol.', type: 'scatter', xAxisIndex: 0, yAxisIndex: 0, data: detPts,
         symbol: 'circle', symbolSize: 4, itemStyle: {color: '#00ff00'}},
        {name: 'cv', type: 'line', xAxisIndex: 2, yAxisIndex: 2, data: cvPct,
         symbol: 'none', lineStyle: {color: '#0000ff', width: 2}, itemStyle: {color: '#0000ff'}}
    ]
});
</script>
</body>
</html>
